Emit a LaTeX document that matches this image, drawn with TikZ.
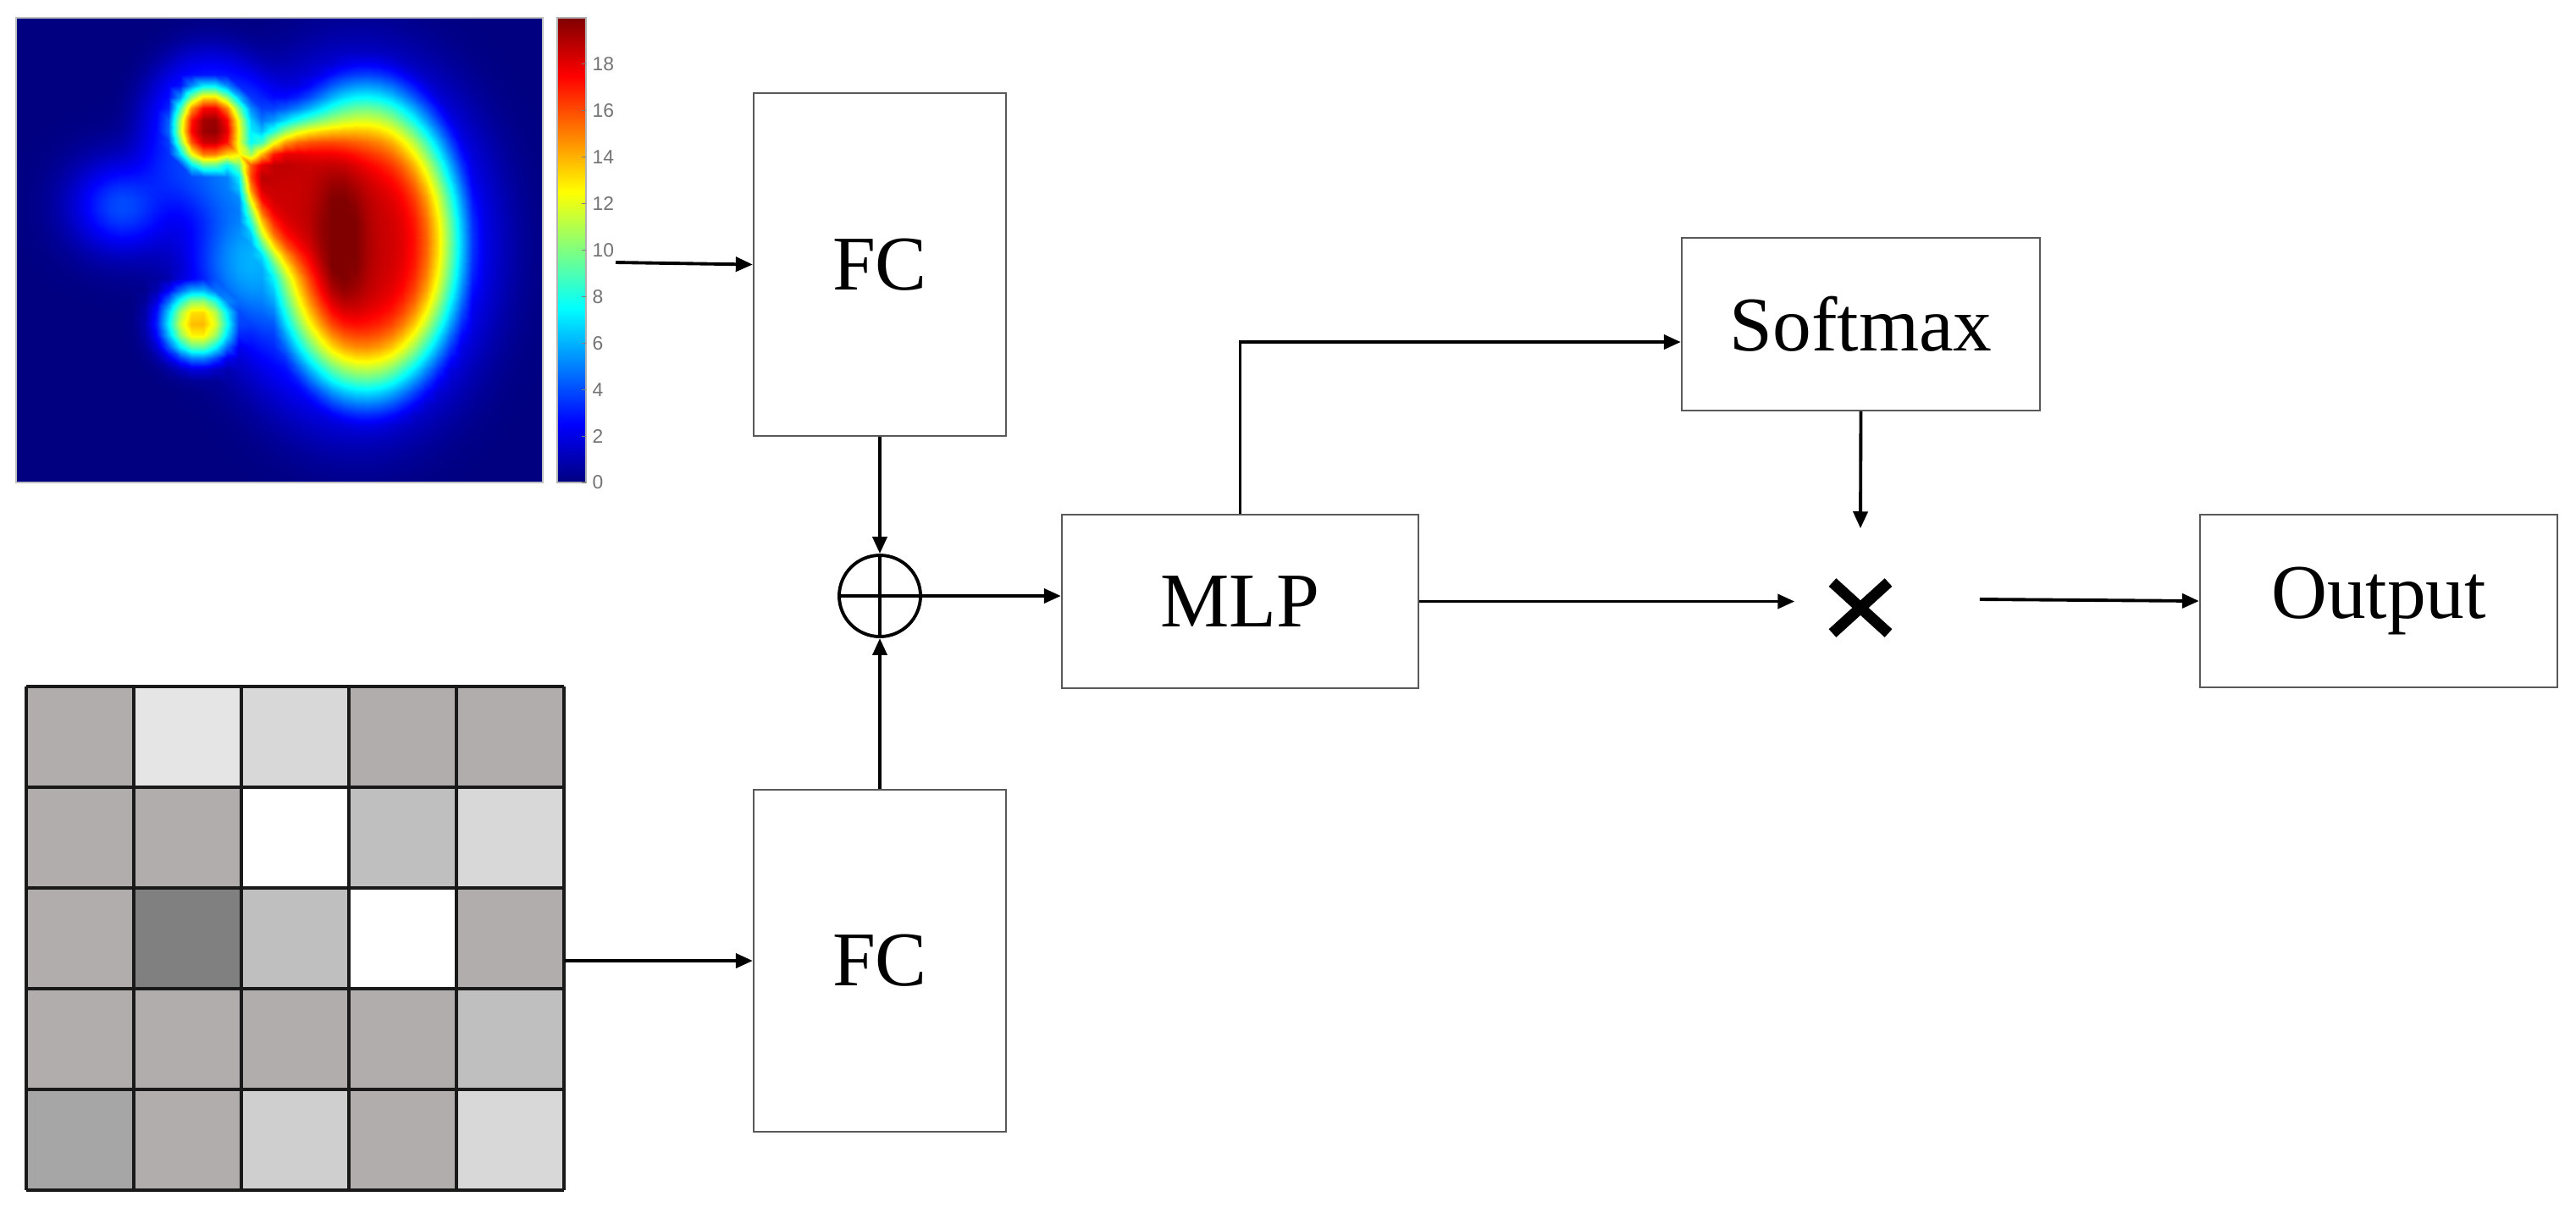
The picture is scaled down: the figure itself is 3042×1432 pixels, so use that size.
\documentclass[tikz,border=0pt]{standalone}
\usepackage{fontspec}
\setmainfont{Liberation Serif}
\newfontfamily\cbfont{Liberation Sans}
\usepackage{pgfplots}
\pgfplotsset{compat=1.18}
\usetikzlibrary{arrows.meta}
\definecolor{ga}{HTML}{B0ADAC}
\definecolor{gb}{HTML}{E5E5E5}
\definecolor{gc}{HTML}{D8D8D8}
\definecolor{gd}{HTML}{FFFFFF}
\definecolor{ge}{HTML}{BFBFBF}
\definecolor{gf}{HTML}{808080}
\definecolor{gg}{HTML}{A6A6A6}
\definecolor{gh}{HTML}{D0CFCF}
\pgfdeclareverticalshading{jetbar}{100bp}{rgb(0bp)=(0,0,0.5); rgb(25bp)=(0,0,0.5); rgb(31.25bp)=(0,0,1); rgb(43.75bp)=(0,1,1); rgb(56.25bp)=(1,1,0); rgb(68.75bp)=(1,0,0); rgb(75bp)=(0.5,0,0); rgb(100bp)=(0.5,0,0)}
\begin{document}
\begin{tikzpicture}[x=0.01cm, y=-0.01cm,
  declare function={
    hm(\x,\y)=min(20,max(
      18.5*(1-(1-exp(-min(40,(((\x-412)/112)^2+((\y-266)/177)^2)^2)))
              *(1-exp(-min(40,(((\x-340)/70)^2+((\y-210)/78)^2)^2)))
              *(1-exp(-min(40,(((\x-312)/42)^2+((\y-192)/36)^2)^2))))
      +2.5*exp(-min(40,((\x-383)/28)^2+((\y-265)/80)^2))
      +19.3*exp(-min(40,(((\x-227)/42)^2+((\y-130)/50)^2+0.0001)^1.5))
      +14*exp(-min(40,(((\x-215)/42)^2+((\y-360)/42)^2+0.0001)^1.25))
      +4.5*exp(-min(40,((0.64*(\x-266)+0.77*(\y-166))/22)^2+((-0.77*(\x-266)+0.64*(\y-166))/11)^2))
      +3*exp(-min(40,(((\x-290)^2+(\y-118)^2)/1800))),
      4.6*exp(-min(40,(((\x-402)/160)^2+((\y-268)/215)^2)^2))
      +3.5*exp(-min(40,(((\x-227)/80)^2+((\y-130)/94)^2)^2))
      +4*exp(-min(40,((\x-125)/60)^2+((\y-222)/55)^2))
      +3.3*exp(-min(40,((\x-255)/60)^2+((\y-290)/80)^2))));
  },
  blk/.style={draw=black!65, line width=0.6pt, fill=white, inner sep=0pt, font=\fontsize{26}{30}\selectfont},
  arr/.style={line width=1.1pt, -{Triangle[length=0.2cm,width=0.17cm]}},
  cblab/.style={anchor=west, inner sep=0pt, text=black!55, font=\cbfont\fontsize{6.5}{7}\selectfont},
  cbtick/.style={draw=black!50, line width=0.3pt},
  gridline/.style={line width=1.2pt, draw=black!90}
]
\useasboundingbox (0,0) rectangle (3042,1432);

% ---------- heat map ----------
\fill[fill={rgb,255:red,0;green,0;blue,128}] (19,21) rectangle (641,570);
\begin{axis}[at={(0.19cm,-5.70cm)}, anchor=south west, width=6.22cm, height=5.49cm,
  scale only axis, hide axis, view={0}{90}, xmin=0, xmax=622, ymin=0, ymax=549,
  colormap/jet, point meta min=0, point meta max=20, enlargelimits=false]
\addplot3[surf, shader=interp, domain=0:622, y domain=0:549, samples=46, samples y=42] {hm(x,549-y)};
\end{axis}
\draw[draw=black!25, line width=0.4pt] (19,21) rectangle (641,570);

% colour bar
\shade[shading=jetbar] (658,21) rectangle (692,570);
\draw[draw=black!30, line width=0.4pt] (658,21) rectangle (692,570);
\foreach \v in {0,2,...,18} {
  \draw[cbtick] (687,570-27.45*\v) -- (692,570-27.45*\v);
  \node[cblab] (cb\v) at (699,570-27.45*\v) {\v};
}
\coordinate (heatout) at (727,310);

% ---------- grey grid ----------
\foreach \row [count=\j from 0] in {{ga,gb,gc,ga,ga},{ga,ga,gd,ge,gc},{ga,gf,ge,gd,ga},{ga,ga,ga,ga,ge},{gg,ga,gh,ga,gc}} {
  \foreach \c [count=\i from 0] in \row {
    \fill[\c] (31+127*\i,811+119*\j) rectangle ++(127,119);
  }
}
\foreach \i in {0,...,5} {
  \draw[gridline] (31+127*\i,811) -- (31+127*\i,1406);
  \draw[gridline] (31,811+119*\i) -- (666,811+119*\i);
}
\node[minimum width=6.35cm, minimum height=5.95cm, inner sep=0pt] (grid) at (348.5,1108.5) {};

% ---------- blocks ----------
\node[blk, minimum width=2.98cm, minimum height=4.05cm] (fc1) at (1039,312.5) {FC};
\node[blk, minimum width=2.98cm, minimum height=4.04cm] (fc2) at (1039,1135) {FC};
\node[circle, draw=black, line width=1.1pt, minimum size=0.96cm, inner sep=0pt,
  path picture={\draw[line width=1pt] (path picture bounding box.north) -- (path picture bounding box.south)
                 (path picture bounding box.west) -- (path picture bounding box.east);}] (add) at (1039,704) {};
\node[blk, minimum width=4.21cm, minimum height=2.05cm] (mlp) at (1464.5,710.5) {MLP};
\node[blk, minimum width=4.23cm, minimum height=2.04cm] (sm) at (2197.5,383) {Softmax};
\node[blk, minimum width=4.22cm, minimum height=2.04cm] (out) at (2809,710) {Output};
\node[minimum width=1.54cm, minimum height=1.86cm, inner sep=0pt] (mul) at (2197,718) {};
\draw[line width=0.13cm] ([shift={(-0.33cm,0.30cm)}]mul.center) -- ([shift={(0.33cm,-0.30cm)}]mul.center)
                         ([shift={(-0.33cm,-0.30cm)}]mul.center) -- ([shift={(0.33cm,0.30cm)}]mul.center);

% ---------- connectors ----------
\draw[arr] (heatout) -- (fc1.west);
\draw[arr] (grid.east |- fc2.west) -- (fc2.west);
\draw[arr] (fc1.south) -- (add.north);
\draw[arr] (fc2.north) -- (add.south);
\draw[arr] (add.east) -- (add.east -| mlp.west);
\draw[arr] (mlp.north) |- ([yshift=-0.21cm]sm.west);
\draw[arr] (sm.south) -- (mul.north);
\draw[arr] (mlp.east) -- (mlp.east -| mul.west);
\draw[arr] ([xshift=0.63cm,yshift=0.1cm]mul.east) -- (out.west);
\end{tikzpicture}
\end{document}
